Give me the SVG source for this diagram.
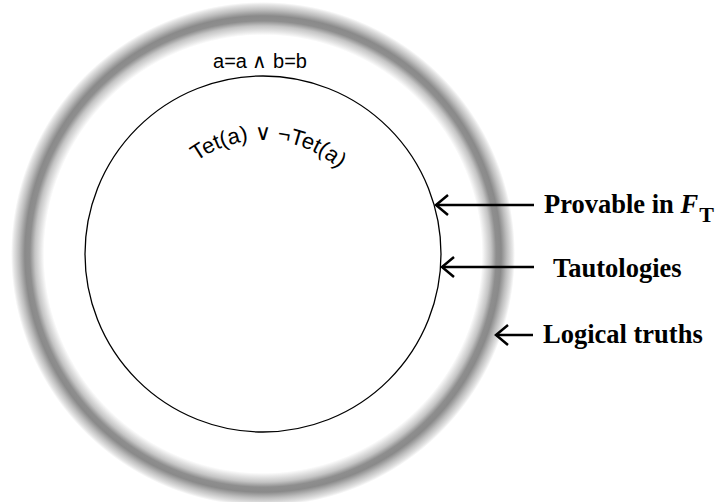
<svg xmlns="http://www.w3.org/2000/svg" width="721" height="502" viewBox="0 0 721 502">
  <defs>
    <radialGradient id="ringGrad" gradientUnits="userSpaceOnUse" cx="263" cy="254" r="252">
      <stop offset="0.868" stop-color="#ffffff"/>
      <stop offset="0.880" stop-color="#ebebeb"/>
      <stop offset="0.905" stop-color="#c4c4c4"/>
      <stop offset="0.925" stop-color="#8e8e8e"/>
      <stop offset="0.945" stop-color="#8a8a8a"/>
      <stop offset="0.968" stop-color="#bdbdbd"/>
      <stop offset="0.990" stop-color="#e6e6e6"/>
      <stop offset="1" stop-color="#ffffff"/>
    </radialGradient>
    <marker id="chev" markerUnits="userSpaceOnUse" markerWidth="30" markerHeight="30" viewBox="-15 -15 30 30" refX="0" refY="0" orient="auto" overflow="visible">
      <path d="M-12,-10 L0,0 L-12,10" fill="none" stroke="#000" stroke-width="2.5" stroke-linejoin="miter"/>
    </marker>
    <path id="arcPath" d="M149,254 A114,114 0 0 1 377,254"/>
  </defs>
  <style>
    .sans { font-family: "Liberation Sans", Arial, sans-serif; font-size: 20px; fill: #000; }
    .arc { font-size: 22px; }
    .lbl { font-family: "Liberation Serif", "Times New Roman", serif; font-size: 26.5px; font-weight: bold; fill: #000; }
    .conn { fill: none; stroke: #000; stroke-width: 2.5; marker-end: url(#chev); }
  </style>
  <rect width="721" height="502" fill="#ffffff"/>
  <g id="logical-truths">
    <circle cx="263" cy="254" r="252" fill="url(#ringGrad)"/>
    <circle cx="263" cy="254" r="219" fill="#ffffff"/>
    <text class="sans" x="260" y="68" text-anchor="middle">a=a ∧ b=b</text>
  </g>
  <g id="tautologies">
    <circle cx="263" cy="254" r="178" fill="none" stroke="#000" stroke-width="1.3"/>
    <text class="sans arc"><textPath href="#arcPath" startOffset="108">Tet(a) ∨ ¬Tet(a)</textPath></text>
  </g>
  <g id="connectors">
    <path class="conn" d="M534,205 H436"/>
    <path class="conn" d="M534,267 H442"/>
    <path class="conn" d="M533,335 H496"/>
  </g>
  <g id="label-provable">
    <text class="lbl" x="544" y="213">Provable in <tspan font-style="italic">F</tspan><tspan font-size="22" dx="1" dy="9">T</tspan></text>
  </g>
  <g id="label-tautologies">
    <text class="lbl" x="553" y="277">Tautologies</text>
  </g>
  <g id="label-logical">
    <text class="lbl" x="543" y="343">Logical truths</text>
  </g>
</svg>
